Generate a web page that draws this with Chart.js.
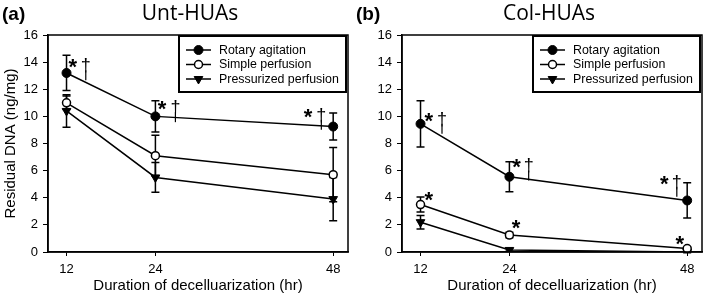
<!DOCTYPE html>
<html>
<head>
<meta charset="utf-8">
<script src="https://cdn.jsdelivr.net/npm/chart.js@4.4.1/dist/chart.umd.min.js"></script>
<style>
  html, body { margin: 0; padding: 0; background: #fff; }
  #wrap { display: flex; width: 708px; height: 297px; }
  .panel { width: 354px; height: 297px; position: relative; }
</style>
</head>
<body>
<div id="wrap">
  <div class="panel"><canvas id="chartA" width="354" height="297"></canvas></div>
  <div class="panel"><canvas id="chartB" width="354" height="297"></canvas></div>
</div>
<script>
// ---- data ----
const xValues = [12, 24, 48];            // hours
const xTicks = [12, 24, 48];
const seriesNames = ['Rotary agitation', 'Simple perfusion', 'Pressurized perfusion'];

// (a) Unt-HUAs
const untRotary = [13.2, 10.0, 9.25];
const untRotaryErr = [1.3, 1.15, 1.0];
const untSimple = [11.0, 7.1, 5.7];
const untSimpleErr = [0.5, 1.5, 2.0];
const untPress = [10.4, 5.5, 3.9];
const untPressErr = [1.2, 1.1, 1.6];
// significance marks: [x (hr), y (ng/mg), symbol]
const untMarks = [
  [12.85, 14.0, '*'], [14.6, 14.0, '†'],
  [24.9, 10.9, '*'], [26.7, 10.9, '†'],
  [44.6, 10.35, '*'], [46.4, 10.35, '†']
];

// (b) Col-HUAs
const colRotary = [9.45, 5.55, 3.8];
const colRotaryErr = [1.7, 1.1, 1.3];
const colSimple = [3.5, 1.25, 0.25];
const colSimpleErr = [0.55, 0.2, 0.1];
const colPress = [2.2, 0.15, 0.0];
const colPressErr = [0.5, 0.1, 0.05];
const colMarks = [
  [13.1, 10.05, '*'], [14.9, 10.05, '†'],
  [24.95, 6.6, '*'], [26.6, 6.6, '†'],
  [44.9, 5.4, '*'], [46.6, 5.4, '†'],
  [13.1, 4.2, '*'],
  [24.9, 2.15, '*'],
  [47.0, 0.95, '*']
];

const yTitle = 'Residual DNA (ng/mg)';
const xTitle = 'Duration of decelluarization (hr)';

const ARIAL = '"Liberation Sans", Arial, sans-serif';

// error bars under the markers
const errorBars = {
  id: 'errorBars',
  beforeDatasetsDraw(chart) {
    const { ctx, scales: { x, y } } = chart;
    ctx.save();
    ctx.strokeStyle = '#000';
    ctx.lineWidth = 1.5;
    chart.data.datasets.forEach(ds => {
      ds.data.forEach((p, i) => {
        const e = ds.errors[i];
        const px = x.getPixelForValue(p.x);
        const t = y.getPixelForValue(p.y + e);
        const b = y.getPixelForValue(p.y - e);
        ctx.beginPath();
        ctx.moveTo(px, t); ctx.lineTo(px, b);
        ctx.moveTo(px - 4, t); ctx.lineTo(px + 4, t);
        ctx.moveTo(px - 4, b); ctx.lineTo(px + 4, b);
        ctx.stroke();
      });
    });
    ctx.restore();
  }
};

// frame, legend box, asterisks/daggers, panel titles
const decorations = {
  id: 'decorations',
  afterDraw(chart, args, opts) {
    const { ctx, chartArea: ca, scales: { x, y } } = chart;
    ctx.save();
    // full frame
    ctx.strokeStyle = '#000';
    ctx.lineWidth = 1.5;
    ctx.strokeRect(ca.left, ca.top, ca.right - ca.left, ca.bottom - ca.top);

    // panel label + title
    ctx.fillStyle = '#000';
    ctx.textBaseline = 'middle';
    ctx.textAlign = 'left';
    ctx.font = 'bold 19px ' + ARIAL;
    ctx.fillText(opts.tag, 2, 15);
    ctx.textAlign = 'center';
    ctx.font = '21px "Open Sans", sans-serif';
    ctx.fillText(opts.title, opts.titleX, 14);

    // significance marks
    opts.marks.forEach(([mx, my, sym]) => {
      const px = x.getPixelForValue(mx);
      const py = y.getPixelForValue(my);
      ctx.textAlign = 'center';
      ctx.textBaseline = 'alphabetic';
      if (sym === '*') {
        ctx.font = 'bold 22px ' + ARIAL;
        ctx.fillText('*', px, py + 12);
      } else {
        ctx.font = '18px ' + ARIAL;
        ctx.fillText('†', px, py + 9);
        ctx.lineWidth = 1.2;
        ctx.beginPath();
        ctx.moveTo(px, py + 8);
        ctx.lineTo(px, py + 18);
        ctx.stroke();
      }
    });

    // legend box
    const bw = 167, bh = 56;
    const bx = ca.right - 2 - bw, by = ca.top + 1;
    ctx.lineWidth = 2;
    ctx.strokeRect(bx, by, bw, bh);
    ctx.font = '12.4px ' + ARIAL;
    ctx.textAlign = 'left';
    ctx.textBaseline = 'middle';
    chart.data.datasets.forEach((ds, i) => {
      const ry = by + 14 + i * 14.5;
      ctx.strokeStyle = '#000';
      ctx.lineWidth = 1.5;
      ctx.beginPath();
      ctx.moveTo(bx + 7, ry); ctx.lineTo(bx + 32, ry);
      ctx.stroke();
      ctx.fillStyle = ds.pointBackgroundColor;
      ctx.strokeStyle = '#000';
      ctx.lineWidth = ds.pointBorderWidth;
      Chart.helpers.drawPoint(ctx, {
        pointStyle: ds.pointStyle, radius: ds.pointRadius,
        rotation: ds.pointRotation || 0, borderWidth: ds.pointBorderWidth
      }, bx + 19.5, ry);
      ctx.fillStyle = '#000';
      ctx.fillText(ds.label, bx + 40, ry + 0.5);
    });
    ctx.restore();
  }
};

function makeDatasets(rot, rotErr, sim, simErr, pre, preErr) {
  const pts = arr => xValues.map((xv, i) => ({ x: xv, y: arr[i] }));
  return [
    { label: seriesNames[0], data: pts(rot), errors: rotErr,
      borderColor: '#000', borderWidth: 1.5, pointStyle: 'circle', pointRadius: 4.5,
      pointBackgroundColor: '#000', pointBorderColor: '#000', pointBorderWidth: 1 },
    { label: seriesNames[1], data: pts(sim), errors: simErr,
      borderColor: '#000', borderWidth: 1.5, pointStyle: 'circle', pointRadius: 4,
      pointBackgroundColor: '#fff', pointBorderColor: '#000', pointBorderWidth: 1.5 },
    { label: seriesNames[2], data: pts(pre), errors: preErr,
      borderColor: '#000', borderWidth: 1.5, pointStyle: 'triangle', pointRotation: 180, pointRadius: 5,
      pointBackgroundColor: '#000', pointBorderColor: '#000', pointBorderWidth: 1 }
  ];
}

function makeChart(id, datasets, deco, showYTitle) {
  return new Chart(document.getElementById(id), {
    type: 'line',
    data: { datasets },
    options: {
      responsive: false,
      animation: false,
      layout: { padding: { top: 35, right: 4, bottom: 0, left: 0 } },
      plugins: { legend: { display: false }, tooltip: { enabled: false }, decorations: deco },
      elements: { line: { tension: 0 } },
      scales: {
        x: {
          type: 'linear', min: 9.5, max: 50,
          afterBuildTicks: s => { s.ticks = xTicks.map(v => ({ value: v })); },
          afterFit: s => { s.height = 45; },
          grid: { drawOnChartArea: false, color: '#000', tickLength: 4 },
          border: { color: '#000', width: 1.5 },
          ticks: { color: '#000', font: { family: ARIAL, size: 13 }, padding: 6 },
          title: { display: true, text: xTitle, color: '#000', font: { family: ARIAL, size: 15 }, padding: { top: 0, bottom: 2 } }
        },
        y: {
          min: 0, max: 16,
          ticks: { stepSize: 2, color: '#000', font: { family: ARIAL, size: 13 }, padding: 5 },
          afterFit: s => { s.width = 48; },
          grid: { drawOnChartArea: false, color: '#000', tickLength: 5 },
          border: { color: '#000', width: 1.5 },
          title: { display: showYTitle, text: yTitle, color: '#000', font: { family: ARIAL, size: 15 }, padding: { top: 2, bottom: 0 } }
        }
      }
    },
    plugins: [errorBars, decorations]
  });
}

makeChart('chartA',
  makeDatasets(untRotary, untRotaryErr, untSimple, untSimpleErr, untPress, untPressErr),
  { tag: '(a)', title: 'Unt-HUAs', titleX: 190, marks: untMarks }, true);
makeChart('chartB',
  makeDatasets(colRotary, colRotaryErr, colSimple, colSimpleErr, colPress, colPressErr),
  { tag: '(b)', title: 'Col-HUAs', titleX: 195, marks: colMarks }, false);
</script>
</body>
</html>
